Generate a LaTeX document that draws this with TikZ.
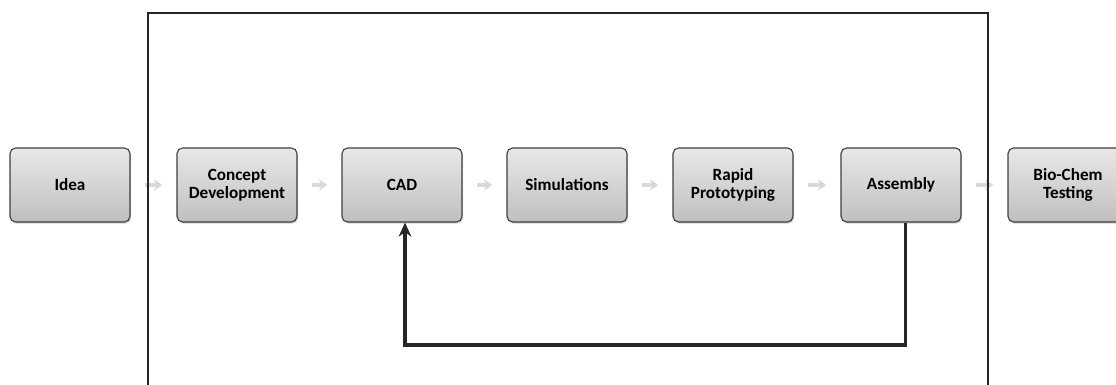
\documentclass[tikz,border=0pt]{standalone}
\usepackage{fontspec}
\setmainfont{Carlito}
\usetikzlibrary{arrows.meta,shadows}
\newcommand{\boxwd}{3cm}
\newcommand{\boxht}{1.85cm}

\begin{document}
\begin{tikzpicture}[x=0.025cm,y=-0.025cm,
    stepbox/.style={draw=black!75, rounded corners=4pt, line width=.8pt,
      top color=gray!18, bottom color=gray!50,
      drop shadow={opacity=.35, shadow xshift=.8pt, shadow yshift=-1.2pt},
      minimum width=\boxwd, minimum height=\boxht, align=center,
      font=\fontsize{12.2}{13}\selectfont\bfseries, text=black},
    flow/.style={gray!30, line width=2.6pt, -{Stealth[length=6pt,width=8pt]},
      shorten <=10pt, shorten >=10pt}]
  \useasboundingbox (0,0) rectangle (1116,385);
  \clip (0,0) rectangle (1116,385);

      \node (idea) at (70,185)  [stepbox] {Idea};
      \node (concept) at (237,185)  [stepbox] {Concept\\Development};
      \node (cad) at (402,185)  [stepbox] {CAD};
      \node (sim) at (567,185)  [stepbox] {Simulations};
      \node (rp) at (733,185)  [stepbox] {Rapid\\Prototyping};
      \node (asm) at (901,185)  [stepbox] {Assembly};
      \node (bio) at (1068,185)  [stepbox] {Bio-Chem\\Testing};
      \coordinate (loop) at (405,345);

      % small grey arrows along the chain
      \draw[flow] (idea) -- (concept);
      \draw[flow] (concept) -- (cad);
      \draw[flow] (cad) -- (sim);
      \draw[flow] (sim) -- (rp);
      \draw[flow] (rp) -- (asm);
      \draw[flow] (asm) -- (bio);

      % frame round the design loop, open at the bottom
      \draw[line width=1.8pt, black!85] (148,400) -- (148,13) -- (988,13) -- (988,400);

      % feedback
      \draw[line width=2.3pt, black!85, -{Stealth[length=10pt,width=9pt]}]
      ([xshift=3pt]asm.south) |- (loop) -- (loop |- cad.south);
\end{tikzpicture}
\end{document}
